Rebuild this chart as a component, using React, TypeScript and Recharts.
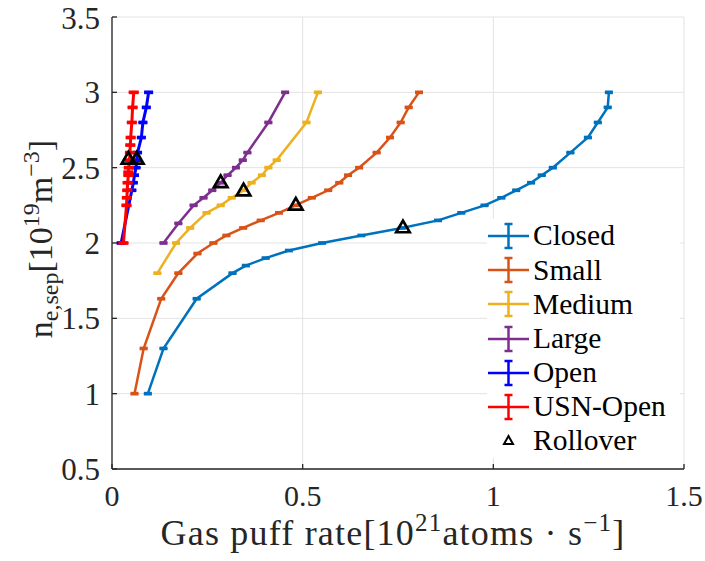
import React from "react";
import {
  ComposedChart,
  Line,
  Scatter,
  XAxis,
  YAxis,
  CartesianGrid,
  ErrorBar,
  Legend,
} from "recharts";

// gas puff rate [1e21 atoms/s] vs separatrix density [1e19 m^-3]
const closedX = [0.094, 0.135, 0.222, 0.316, 0.351, 0.403, 0.464, 0.551, 0.654, 0.76, 0.855, 0.916, 0.977, 1.021, 1.06, 1.099, 1.127, 1.156, 1.202, 1.248, 1.274, 1.3, 1.303];
const closedY = [1.0, 1.3, 1.63, 1.8, 1.85, 1.9, 1.95, 2.0, 2.05, 2.1, 2.15, 2.2, 2.25, 2.3, 2.35, 2.4, 2.45, 2.5, 2.6, 2.7, 2.8, 2.9, 3.0];

const smallX = [0.059, 0.083, 0.129, 0.174, 0.224, 0.266, 0.3, 0.344, 0.39, 0.438, 0.481, 0.524, 0.567, 0.596, 0.619, 0.648, 0.694, 0.729, 0.757, 0.778, 0.805];
const smallY = [1.0, 1.3, 1.63, 1.8, 1.93, 2.0, 2.05, 2.1, 2.15, 2.2, 2.25, 2.3, 2.35, 2.4, 2.45, 2.5, 2.6, 2.7, 2.8, 2.9, 3.0];

const mediumX = [0.119, 0.168, 0.205, 0.248, 0.285, 0.314, 0.345, 0.366, 0.393, 0.41, 0.432, 0.51, 0.54];
const mediumY = [1.8, 2.0, 2.1, 2.2, 2.25, 2.3, 2.35, 2.4, 2.45, 2.5, 2.55, 2.8, 3.0];

const largeX = [0.135, 0.174, 0.214, 0.24, 0.263, 0.285, 0.303, 0.325, 0.343, 0.355, 0.41, 0.454];
const largeY = [2.0, 2.13, 2.25, 2.3, 2.35, 2.4, 2.45, 2.5, 2.55, 2.6, 2.8, 3.0];

const openX = [0.024, 0.052, 0.056, 0.059, 0.063, 0.065, 0.067, 0.077, 0.081, 0.09, 0.096];
const openY = [2.0, 2.35, 2.4, 2.45, 2.5, 2.55, 2.6, 2.7, 2.8, 2.9, 3.0];

const usnOpenX = [0.03, 0.038, 0.039, 0.04, 0.041, 0.043, 0.043, 0.044, 0.046, 0.047, 0.048, 0.049, 0.052, 0.054, 0.057];
const usnOpenY = [2.0, 2.25, 2.3, 2.35, 2.4, 2.45, 2.47, 2.5, 2.55, 2.6, 2.65, 2.7, 2.8, 2.9, 3.0];

const rolloverX = [0.763, 0.482, 0.345, 0.285, 0.065, 0.043];
const rolloverY = [2.11, 2.26, 2.355, 2.41, 2.565, 2.565];

const xTicks = [0, 0.5, 1, 1.5];
const yTicks = [0.5, 1, 1.5, 2, 2.5, 3, 3.5];

const FONT = "Liberation Serif, Times New Roman, Times, DejaVu Serif, serif";
const AXIS = "#262626";

const toPoints = (xs: number[], ys: number[]) =>
  xs.map((x, i) => ({ x, y: ys[i], err: 0.004 }));

const series = [
  { name: "Closed", color: "#0072BD", width: 2.5, capW: 4, data: toPoints(closedX, closedY) },
  { name: "Small", color: "#D95319", width: 2.5, capW: 4, data: toPoints(smallX, smallY) },
  { name: "Medium", color: "#EDB120", width: 2.5, capW: 4, data: toPoints(mediumX, mediumY) },
  { name: "Large", color: "#7E2F8E", width: 2.5, capW: 4, data: toPoints(largeX, largeY) },
  { name: "Open", color: "#0000FF", width: 3, capW: 4.5, data: toPoints(openX, openY) },
  { name: "USN-Open", color: "#FF0000", width: 3, capW: 5, data: toPoints(usnOpenX, usnOpenY) },
];

const rollover = rolloverX.map((x, i) => ({ x, y: rolloverY[i] }));

// matlab style '^' marker, centred on its bounding box
const Triangle = (props: any) => {
  const { cx, cy } = props;
  const s = 13.5;
  const h = s * 0.866;
  return (
    <path
      d={`M${cx},${cy - h / 2} L${cx + s / 2},${cy + h / 2} L${cx - s / 2},${cy + h / 2} Z`}
      fill="none"
      stroke="#000"
      strokeWidth={2.7}
    />
  );
};

const renderXLabel = () => (
  <text
    x={393}
    y={545}
    textAnchor="middle"
    fontFamily={FONT}
    fontSize={36}
    letterSpacing={1.2}
    fill={AXIS}
  >
    Gas puff rate[10
    <tspan dy={-14} fontSize={25}>21</tspan>
    <tspan dy={14}>atoms · s</tspan>
    <tspan dy={-14} fontSize={25}>−1</tspan>
    <tspan dy={14}>]</tspan>
  </text>
);

const renderYLabel = () => (
  <text
    x={52}
    y={239}
    transform="rotate(-90 52 239)"
    textAnchor="middle"
    fontFamily={FONT}
    fontSize={34}
    fill={AXIS}
  >
    n
    <tspan dy={6} fontSize={24}>e,sep</tspan>
    <tspan dy={-6}>[10</tspan>
    <tspan dy={-13} fontSize={24}>19</tspan>
    <tspan dy={13}>m</tspan>
    <tspan dy={-13} fontSize={24}>−3</tspan>
    <tspan dy={13}>]</tspan>
  </text>
);

const renderLegend = () => (
  <div style={{ background: "#fff", fontFamily: FONT, fontSize: 29.5, color: "#000" }}>
    {series.map((s) => (
      <div key={s.name} style={{ display: "flex", alignItems: "center", height: 34.2 }}>
        <svg width={44} height={34} style={{ display: "block" }}>
          <line x1={1} x2={42} y1={17} y2={17} stroke={s.color} strokeWidth={2.5} />
          <line x1={21.5} x2={21.5} y1={5} y2={29} stroke={s.color} strokeWidth={2.5} />
          <line x1={17.5} x2={25.5} y1={5} y2={5} stroke={s.color} strokeWidth={2.5} />
          <line x1={17.5} x2={25.5} y1={29} y2={29} stroke={s.color} strokeWidth={2.5} />
        </svg>
        <span style={{ marginLeft: 2, lineHeight: 1 }}>{s.name}</span>
      </div>
    ))}
    <div style={{ display: "flex", alignItems: "center", height: 34.2 }}>
      <svg width={44} height={34} style={{ display: "block" }}>
        <path d="M21.5,12 L26,20 L17,20 Z" fill="none" stroke="#000" strokeWidth={2} />
      </svg>
      <span style={{ marginLeft: 2, lineHeight: 1 }}>Rollover</span>
    </div>
  </div>
);

export default function App() {
  return (
    <div style={{ position: "absolute", left: 0, top: 0, fontFamily: FONT }}>
      <ComposedChart
        width={705}
        height={561}
        margin={{ top: 17, right: 21, bottom: 0, left: 0 }}
        style={{ fontFamily: FONT }}
      >
        <CartesianGrid stroke="#e3e3e3" strokeWidth={1} />
        <XAxis
          dataKey="x"
          type="number"
          domain={[0, 1.5]}
          ticks={xTicks}
          allowDataOverflow
          height={92}
          tickSize={-5}
          tickMargin={21}
          stroke={AXIS}
          strokeWidth={1.3}
          tick={{ fontSize: 30, fill: AXIS, fontFamily: FONT }}
          label={renderXLabel}
        />
        <XAxis
          xAxisId="top"
          orientation="top"
          type="number"
          domain={[0, 1.5]}
          ticks={xTicks}
          allowDataOverflow
          height={0}
          tickSize={-5}
          tick={false}
          stroke={AXIS}
          strokeWidth={1.3}
        />
        <YAxis
          dataKey="y"
          type="number"
          domain={[0.5, 3.5]}
          ticks={yTicks}
          allowDataOverflow
          width={112}
          tickSize={-5}
          tickMargin={17}
          stroke={AXIS}
          strokeWidth={1.3}
          tick={{ fontSize: 31, fill: AXIS, fontFamily: FONT }}
          label={renderYLabel}
        />
        <YAxis
          yAxisId="right"
          orientation="right"
          type="number"
          domain={[0.5, 3.5]}
          ticks={yTicks}
          allowDataOverflow
          width={0}
          tickSize={-5}
          tick={false}
          stroke={AXIS}
          strokeWidth={1.3}
        />
        {series.map((s) => (
          <Line
            key={s.name}
            name={s.name}
            data={s.data}
            dataKey="y"
            type="linear"
            stroke={s.color}
            strokeWidth={s.width}
            dot={false}
            isAnimationActive={false}
          >
            <ErrorBar
              dataKey="err"
              direction="y"
              width={s.capW}
              stroke={s.color}
              strokeWidth={2.5}
              isAnimationActive={false}
            />
          </Line>
        ))}
        <Scatter
          name="Rollover"
          data={rollover}
          shape={Triangle}
          isAnimationActive={false}
        />
        <Legend
          layout="vertical"
          align="center"
          verticalAlign="middle"
          content={renderLegend}
          wrapperStyle={{ left: 487, top: 219, width: 193, height: 240 }}
        />
      </ComposedChart>
    </div>
  );
}
